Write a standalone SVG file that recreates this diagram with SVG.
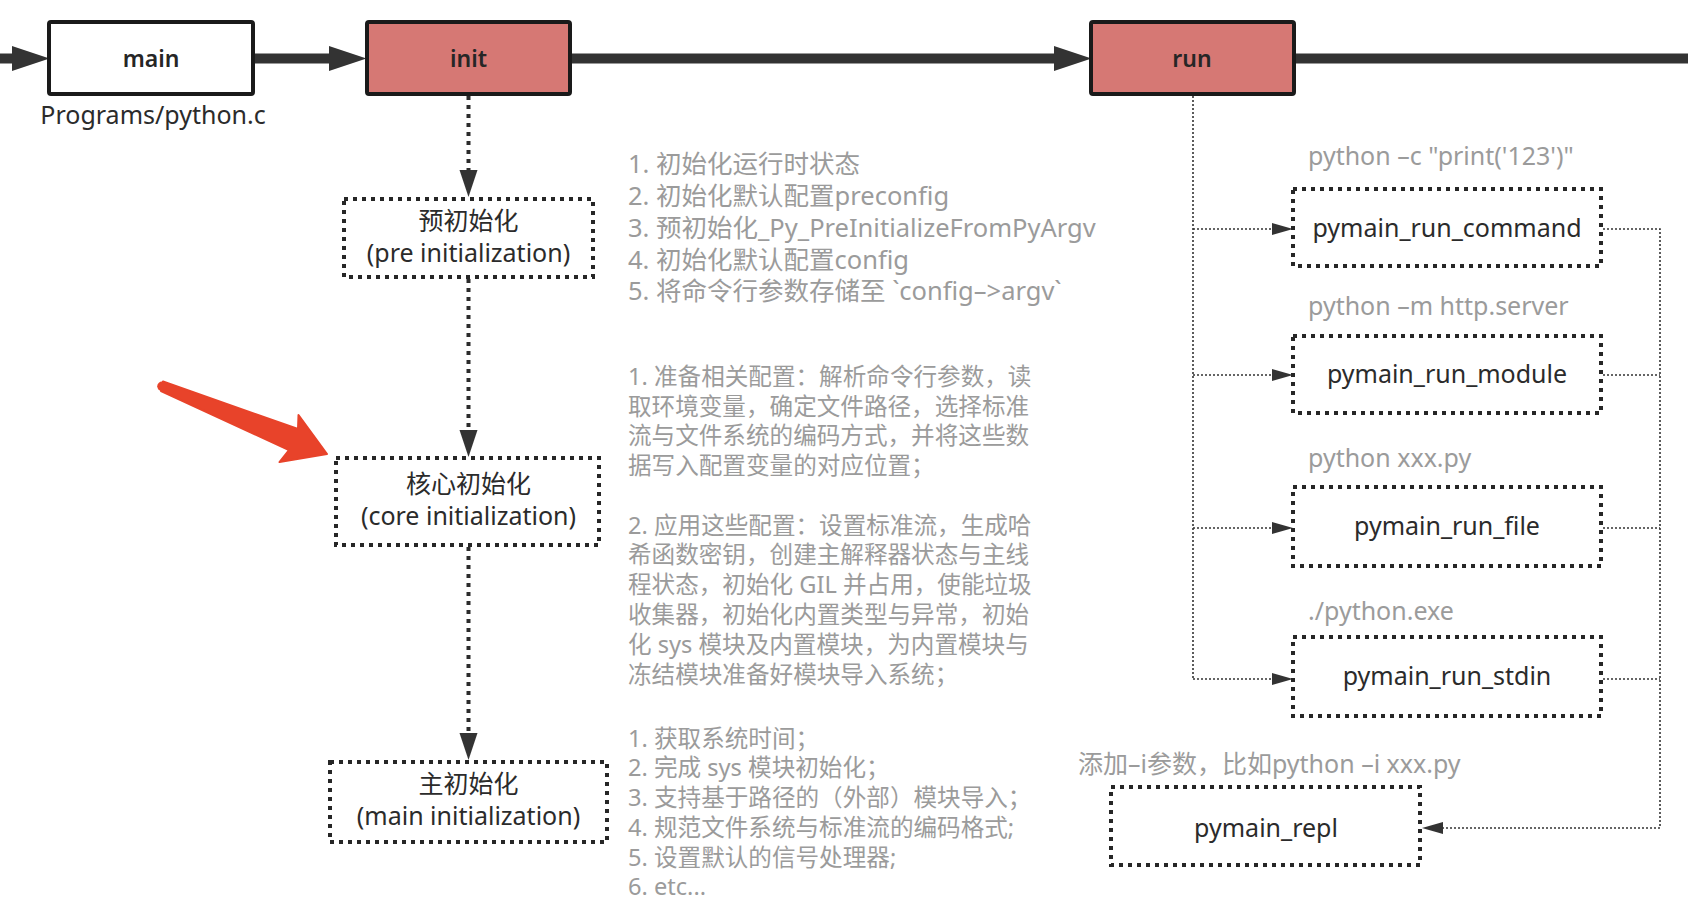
<svg xmlns="http://www.w3.org/2000/svg" width="1688" height="912" viewBox="0 0 1688 912">
<defs>
<style>
text{font-family:"Noto Sans","Noto Sans CJK SC",sans-serif;}
.solidbox{stroke:#1a1a1a;stroke-width:4;}
.red{fill:#D67874;}
.white{fill:#ffffff;}
.dotbox{fill:none;stroke:#262626;stroke-width:4;stroke-dasharray:4 5;}
.title{font-size:23px;font-weight:600;fill:#262626;text-anchor:middle;}
.lbl{font-size:25px;fill:#2b2b2b;text-anchor:middle;}
.grey{font-size:25px;fill:#9b9b9b;}
.note{font-size:23.6px;fill:#9b9b9b;}
.note1{font-size:25.5px;fill:#9b9b9b;}
.flow{stroke:#333;stroke-width:10;fill:none;}
.vdot{stroke:#2b2b2b;stroke-width:4;stroke-dasharray:4 5;fill:none;}
.thin{stroke:#333;stroke-width:1.6;stroke-dasharray:2 2;fill:none;}
</style>
<marker id="bigArrow" markerUnits="userSpaceOnUse" markerWidth="38" markerHeight="26" refX="0" refY="12.5" orient="auto" viewBox="0 0 38 26">
<path d="M0,0 L37.5,12.5 L0,25 z" fill="#333"/>
</marker>
<marker id="dArrow" markerUnits="userSpaceOnUse" markerWidth="28" markerHeight="19" refX="0" refY="9" orient="auto" viewBox="0 0 28 19">
<path d="M0,0 L27,9 L0,18 z" fill="#333"/>
</marker>
<marker id="sArrow" markerUnits="userSpaceOnUse" markerWidth="22" markerHeight="13" refX="0" refY="6" orient="auto" viewBox="0 0 22 13">
<path d="M0,0 L21,6 L0,12 z" fill="#333"/>
</marker>
</defs>
<rect width="1688" height="912" fill="#ffffff"/>

<g id="connectors">
<line class="flow" x1="0" y1="58.5" x2="12" y2="58.5" marker-end="url(#bigArrow)"/>
<line class="flow" x1="253" y1="58.5" x2="329" y2="58.5" marker-end="url(#bigArrow)"/>
<line class="flow" x1="570" y1="58.5" x2="1054" y2="58.5" marker-end="url(#bigArrow)"/>
<line class="flow" x1="1294" y1="58.5" x2="1688" y2="58.5"/>
<line class="vdot" x1="468.5" y1="96" x2="468.5" y2="170" marker-end="url(#dArrow)"/>
<line class="vdot" x1="468.5" y1="279" x2="468.5" y2="430" marker-end="url(#dArrow)"/>
<line class="vdot" x1="468.5" y1="547" x2="468.5" y2="733" marker-end="url(#dArrow)"/>
<path class="thin" d="M1193,96 V679"/>
<line class="thin" x1="1193" y1="229" x2="1272" y2="229" marker-end="url(#sArrow)"/>
<line class="thin" x1="1193" y1="375" x2="1272" y2="375" marker-end="url(#sArrow)"/>
<line class="thin" x1="1193" y1="528" x2="1272" y2="528" marker-end="url(#sArrow)"/>
<line class="thin" x1="1193" y1="679" x2="1272" y2="679" marker-end="url(#sArrow)"/>
<path class="thin" d="M1603,229 H1660 V828 H1443" marker-end="url(#sArrow)"/>
<line class="thin" x1="1603" y1="375" x2="1660" y2="375"/>
<line class="thin" x1="1603" y1="528" x2="1660" y2="528"/>
<line class="thin" x1="1603" y1="679" x2="1660" y2="679"/>
</g>

<g id="red-pointer">
<path d="M163,381.5 L298,429 L298.5,415 L327,454 L279.5,462 L289,450 L161,391 Z" fill="#E8432A" stroke="#E8432A" stroke-width="2" stroke-linejoin="round"/>
<circle cx="162" cy="386.3" r="4.8" fill="#E8432A"/>
</g>

<g id="node-main">
<rect class="solidbox white" x="49" y="22" width="204" height="72" rx="2"/>
<text class="title" x="151" y="67">main</text>
</g>
<text id="label-programs" class="lbl" x="153" y="124">Programs/python.c</text>

<g id="node-init">
<rect class="solidbox red" x="367" y="22" width="203" height="72" rx="2"/>
<text class="title" x="468.5" y="67">init</text>
</g>

<g id="node-run">
<rect class="solidbox red" x="1091" y="22" width="203" height="72" rx="2"/>
<text class="title" x="1192" y="67">run</text>
</g>

<g id="node-pre">
<rect class="dotbox" x="344" y="199" width="249" height="78"/>
<text class="lbl" x="468.5" y="230">预初始化</text>
<text class="lbl" x="468.5" y="262">(pre initialization)</text>
</g>

<g id="node-core">
<rect class="dotbox" x="336" y="458" width="263" height="87"/>
<text class="lbl" x="468.5" y="493">核心初始化</text>
<text class="lbl" x="468.5" y="525">(core initialization)</text>
</g>

<g id="node-maininit">
<rect class="dotbox" x="330" y="762" width="277" height="80"/>
<text class="lbl" x="468.5" y="793">主初始化</text>
<text class="lbl" x="468.5" y="825">(main initialization)</text>
</g>

<g id="notes-pre">
<text class="note1" x="628" y="173">1. 初始化运行时状态</text>
<text class="note1" x="628" y="205">2. 初始化默认配置preconfig</text>
<text class="note1" x="628" y="237">3. 预初始化_Py_PreInitializeFromPyArgv</text>
<text class="note1" x="628" y="268.5">4. 初始化默认配置config</text>
<text class="note1" x="628" y="300">5. 将命令行参数存储至 `config–&gt;argv`</text>
</g>

<g id="notes-core">
<text class="note" x="628" y="385">1. 准备相关配置：解析命令行参数，读</text>
<text class="note" x="628" y="414.5">取环境变量，确定文件路径，选择标准</text>
<text class="note" x="628" y="444">流与文件系统的编码方式，并将这些数</text>
<text class="note" x="628" y="473.5">据写入配置变量的对应位置；</text>
<text class="note" x="628" y="533.5">2. 应用这些配置：设置标准流，生成哈</text>
<text class="note" x="628" y="563">希函数密钥，创建主解释器状态与主线</text>
<text class="note" x="628" y="593">程状态，初始化 GIL 并占用，使能垃圾</text>
<text class="note" x="628" y="623">收集器，初始化内置类型与异常，初始</text>
<text class="note" x="628" y="653">化 sys 模块及内置模块，为内置模块与</text>
<text class="note" x="628" y="682.5">冻结模块准备好模块导入系统；</text>
</g>

<g id="notes-main">
<text class="note" x="628" y="746.5">1. 获取系统时间；</text>
<text class="note" x="628" y="776">2. 完成 sys 模块初始化；</text>
<text class="note" x="628" y="806">3. 支持基于路径的（外部）模块导入；</text>
<text class="note" x="628" y="836">4. 规范文件系统与标准流的编码格式;</text>
<text class="note" x="628" y="866">5. 设置默认的信号处理器;</text>
<text class="note" x="628" y="895">6. etc...</text>
</g>

<g id="node-command">
<text class="grey" x="1308" y="165">python –c "print('123')"</text>
<rect class="dotbox" x="1293" y="189" width="308" height="77"/>
<text class="lbl" x="1447" y="236.5">pymain_run_command</text>
</g>

<g id="node-module">
<text class="grey" x="1308" y="315">python –m http.server</text>
<rect class="dotbox" x="1293" y="336" width="308" height="77"/>
<text class="lbl" x="1447" y="383">pymain_run_module</text>
</g>

<g id="node-file">
<text class="grey" x="1308" y="467">python xxx.py</text>
<rect class="dotbox" x="1293" y="487" width="308" height="79"/>
<text class="lbl" x="1447" y="535">pymain_run_file</text>
</g>

<g id="node-stdin">
<text class="grey" x="1308" y="620">./python.exe</text>
<rect class="dotbox" x="1293" y="637" width="308" height="79"/>
<text class="lbl" x="1447" y="685">pymain_run_stdin</text>
</g>

<g id="node-repl">
<text class="grey" x="1078" y="773">添加–i参数，比如python –i xxx.py</text>
<rect class="dotbox" x="1111" y="787" width="309" height="78"/>
<text class="lbl" x="1266" y="837">pymain_repl</text>
</g>
</svg>
